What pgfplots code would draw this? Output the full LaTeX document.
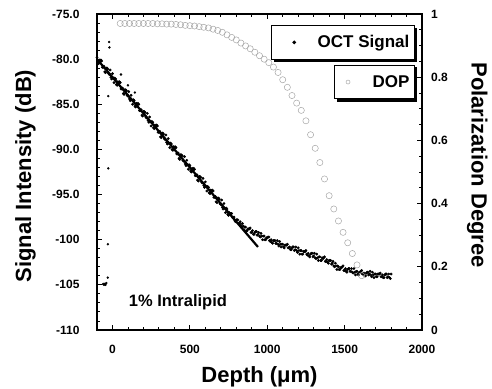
\documentclass[border=0pt]{standalone}
\usepackage{fontspec}
\setmainfont{Liberation Sans}
\usepackage{pgfplots}
\pgfplotsset{compat=1.18}

\pgfplotsset{
  commonaxis/.style={
    at={(0,0)}, anchor=south west,
    scale only axis, width=325bp, height=316bp,
    xmin=-100, xmax=2000,
    tick align=inside,
    major tick length=5bp, minor tick length=3bp,
    every tick/.style={line width=0.9bp, black},
    axis line style={line width=1.4bp},
    /pgf/number format/assume math mode=true,
    tick label style={font=\bfseries\fontsize{12bp}{14bp}\selectfont},
    label style={font=\bfseries\fontsize{22bp}{26bp}\selectfont, inner sep=0pt},
  }
}

\begin{document}
\begin{tikzpicture}
\path[use as bounding box] (-97bp,-59bp) rectangle (395bp,330bp);
\begin{axis}[
  commonaxis,
  ymin=-110, ymax=-75,
  xtick={0,500,1000,1500,2000}, xticklabels={0,500,1000,1500,2000},
  minor x tick num=4,
  ytick={-110,-105,-100,-95,-90,-85,-80,-75},
  yticklabels={-110,-105,-100,-95.0,-90.0,-85.0,-80.0,-75.0},
  minor y tick num=4,
  xtick pos=both, ytick pos=left,
  yticklabel style={xshift=-14bp},
  xticklabel style={yshift=-11.5bp},
  xlabel={Depth (μm)},
  ylabel={Signal Intensity (dB)},
  xlabel style={at={(axis description cs:0.5,-0.114)}, anchor=north},
  ylabel style={at={(axis description cs:-0.252,0.487)}, anchor=north},
  legend style={at={(axis description cs:0.978,0.965)}, anchor=north east,
    draw=black, line width=1bp, fill=white, name=legA,
    font=\bfseries\fontsize{17bp}{20bp}\selectfont,
    inner xsep=3bp, inner ysep=8bp},
]
\addplot[only marks, mark=*, mark size=1.2bp, black,
  legend image code/.code={\path (0bp,0bp) (40bp,0bp); \fill[black] (19bp,0) circle (1.3bp);}]
coordinates {
(-100,-79.8)(-90,-80.5)(-80,-80.3)(-70,-80.2)(-60,-80.9)(-50,-81.4)(-40,-81.0)(-30,-81.1)(-20,-81.7)(-10,-82.0)
(0,-81.6)(10,-82.6)(20,-82.2)(30,-82.9)(40,-82.7)(50,-82.6)(60,-83.3)(70,-83.8)(80,-83.4)(90,-83.5)
(100,-84.1)(110,-84.4)(120,-84.0)(130,-85.0)(140,-84.6)(150,-85.3)(160,-85.1)(170,-85.0)(180,-85.7)(190,-86.2)
(200,-85.8)(210,-85.9)(220,-86.5)(230,-86.8)(240,-86.4)(250,-87.4)(260,-87.0)(270,-87.7)(280,-87.5)(290,-87.4)
(300,-88.1)(310,-88.6)(320,-88.2)(330,-88.3)(340,-88.9)(350,-89.2)(360,-88.8)(370,-89.8)(380,-89.4)(390,-90.1)
(400,-89.9)(410,-89.8)(420,-90.5)(430,-91.0)(440,-90.6)(450,-90.7)(460,-91.3)(470,-91.6)(480,-91.2)(490,-92.2)
(500,-91.8)(510,-92.5)(520,-92.3)(530,-92.2)(540,-92.9)(550,-93.4)(560,-93.0)(570,-93.1)(580,-93.7)(590,-94.0)
(600,-93.6)(610,-94.6)(620,-94.2)(630,-94.9)(640,-94.7)(650,-94.6)(660,-95.3)(670,-95.8)(680,-95.4)(690,-95.5)
(700,-96.1)(710,-96.4)(720,-96.0)(730,-97.0)(740,-96.6)(750,-97.3)(760,-97.1)(770,-97.1)(780,-97.6)(790,-97.9)
(800,-97.8)(810,-97.8)(820,-98.2)(830,-98.4)(840,-98.2)(850,-98.9)(860,-98.6)(870,-99.0)(880,-98.8)(890,-98.7)
(900,-99.2)(910,-99.4)(920,-99.2)(930,-99.1)(940,-99.4)(950,-99.6)(960,-99.3)(970,-100.0)(980,-99.6)(990,-100.0)
(1000,-99.8)(1010,-99.7)(1020,-100.2)(1030,-100.3)(1040,-100.1)(1050,-100.1)(1060,-100.4)(1070,-100.5)(1080,-100.2)(1090,-100.8)
(1100,-100.5)(1110,-100.9)(1120,-100.6)(1130,-100.5)(1140,-100.9)(1150,-101.1)(1160,-100.9)(1170,-100.8)(1180,-101.1)(1190,-101.2)
(1200,-100.9)(1210,-101.6)(1220,-101.2)(1230,-101.6)(1240,-101.3)(1250,-101.2)(1260,-101.7)(1270,-101.8)(1280,-101.6)(1290,-101.5)
(1300,-101.8)(1310,-102.0)(1320,-101.6)(1330,-102.3)(1340,-101.9)(1350,-102.3)(1360,-102.1)(1370,-101.9)(1380,-102.4)(1390,-102.5)
(1400,-102.3)(1410,-102.3)(1420,-102.6)(1430,-102.9)(1440,-102.6)(1450,-103.3)(1460,-103.0)(1470,-103.3)(1480,-103.1)(1490,-102.9)
(1500,-103.4)(1510,-103.5)(1520,-103.3)(1530,-103.2)(1540,-103.5)(1550,-103.6)(1560,-103.2)(1570,-103.9)(1580,-103.5)(1590,-103.9)
(1600,-103.6)(1610,-103.4)(1620,-103.8)(1630,-104.0)(1640,-103.7)(1650,-103.6)(1660,-103.8)(1670,-103.9)(1680,-103.6)(1690,-104.2)
(1700,-103.8)(1710,-104.1)(1720,-103.8)(1730,-103.7)(1740,-104.1)(1750,-104.2)(1760,-103.9)(1770,-103.8)(1780,-104.1)(1790,-104.2)(1800,-103.8)
};
\addlegendentry{OCT Signal}
\addplot[only marks, mark=*, mark size=1.2bp, black, forget plot]
coordinates {
(-95,-80.4)(-85,-80.1)(-75,-80.1)(-65,-80.9)(-55,-80.8)(-45,-81.5)(-35,-81.0)(-25,-81.6)(-15,-81.2)(-5,-82.2)
(5,-82.1)(15,-82.1)(25,-82.8)(35,-82.5)(45,-82.5)(55,-83.3)(65,-83.2)(75,-83.9)(85,-83.4)(95,-84.0)
(105,-83.6)(115,-84.6)(125,-84.5)(135,-84.5)(145,-85.2)(155,-84.9)(165,-84.9)(175,-85.7)(185,-85.6)(195,-86.3)
(205,-85.8)(215,-86.4)(225,-86.0)(235,-87.0)(245,-86.9)(255,-86.9)(265,-87.6)(275,-87.3)(285,-87.3)(295,-88.1)
(305,-88.0)(315,-88.7)(325,-88.2)(335,-88.8)(345,-88.4)(355,-89.4)(365,-89.3)(375,-89.3)(385,-90.0)(395,-89.7)
(405,-89.7)(415,-90.5)(425,-90.4)(435,-91.1)(445,-90.6)(455,-91.2)(465,-90.8)(475,-91.8)(485,-91.7)(495,-91.7)
(505,-92.4)(515,-92.1)(525,-92.1)(535,-92.9)(545,-92.8)(555,-93.5)(565,-93.0)(575,-93.6)(585,-93.2)(595,-94.2)
(605,-94.1)(615,-94.1)(625,-94.8)(635,-94.5)(645,-94.5)(655,-95.3)(665,-95.2)(675,-95.9)(685,-95.4)(695,-96.0)
(705,-95.6)(715,-96.6)(725,-96.5)(735,-96.5)(745,-97.2)(755,-97.0)(765,-97.1)(775,-97.5)(785,-97.5)(795,-98.0)
(805,-97.8)(815,-98.2)(825,-98.0)(835,-98.6)(845,-98.5)(855,-98.6)(865,-99.0)(875,-98.8)(885,-98.8)(895,-99.2)
(905,-99.0)(915,-99.4)(925,-99.1)(935,-99.5)(945,-99.2)(955,-99.7)(965,-99.6)(975,-99.6)(985,-100.0)(995,-99.8)
(1005,-99.7)(1015,-100.1)(1025,-100.0)(1035,-100.4)(1045,-100.1)(1055,-100.4)(1065,-100.1)(1075,-100.7)(1085,-100.5)(1095,-100.5)
(1105,-100.8)(1115,-100.6)(1125,-100.6)(1135,-100.9)(1145,-100.8)(1155,-101.1)(1165,-100.8)(1175,-101.2)(1185,-100.8)(1195,-101.4)
(1205,-101.2)(1215,-101.2)(1225,-101.6)(1235,-101.3)(1245,-101.3)(1255,-101.6)(1265,-101.5)(1275,-101.9)(1285,-101.5)(1295,-101.9)
(1305,-101.5)(1315,-102.1)(1325,-102.0)(1335,-101.9)(1345,-102.3)(1355,-102.0)(1365,-102.0)(1375,-102.4)(1385,-102.2)(1395,-102.6)
(1405,-102.3)(1415,-102.7)(1425,-102.4)(1435,-103.0)(1445,-102.9)(1455,-102.9)(1465,-103.3)(1475,-103.1)(1485,-103.0)(1495,-103.4)
(1505,-103.2)(1515,-103.6)(1525,-103.2)(1535,-103.5)(1545,-103.2)(1555,-103.7)(1565,-103.6)(1575,-103.5)(1585,-103.8)(1595,-103.6)
(1605,-103.5)(1615,-103.8)(1625,-103.7)(1635,-104.0)(1645,-103.6)(1655,-103.9)(1665,-103.5)(1675,-104.1)(1685,-103.9)(1695,-103.8)
(1705,-104.1)(1715,-103.8)(1725,-103.8)(1735,-104.1)(1745,-103.9)(1755,-104.2)(1765,-103.8)(1775,-104.2)(1785,-103.8)(1795,-104.3)
};
\addplot[only marks, mark=*, mark size=1.0bp, black, forget plot]
coordinates {(-22,-78.1)(-20,-78.7)(-27,-84.1)(-27,-92.1)(-30,-100.5)(-30,-104.2)
(-60,-104.9)(-55,-105.0)(-50,-104.9)(-45,-105.0)(-40,-104.8)(55,-81.7)(145,-83.7)(100,-82.9)};
\addplot[black, line width=2.2bp, forget plot] coordinates {(-100,-80.0) (940,-100.8)};
\node[font=\bfseries\fontsize{16.5bp}{18bp}\selectfont] at (axis description cs:0.249,0.0886) {1\% Intralipid};
\end{axis}

\begin{axis}[
  commonaxis,
  ymin=0, ymax=1,
  axis x line=none, axis y line*=right,
  y axis line style={-},
  ytick={0,0.2,0.4,0.6,0.8,1}, yticklabels={0,0.2,0.4,0.6,0.8,1},
  minor y tick num=3,
  yticklabel style={xshift=5.7bp},
  ylabel={Polarization Degree},
  ylabel style={at={(axis description cs:1.138,0.522)}, anchor=south, rotate=180},
  legend style={at={(axis description cs:0.978,0.839)}, anchor=north east,
    draw=black, line width=1bp, fill=white, name=legB,
    font=\bfseries\fontsize{17bp}{20bp}\selectfont,
    inner xsep=3bp, inner ysep=8bp},
]
\addplot[only marks, mark=o, mark size=3.1bp, gray!70, mark options={line width=0.5bp},
  legend image code/.code={\path (0bp,0bp) (32bp,0bp); \draw[gray!70, line width=0.5bp] (10bp,0) circle (2bp);}]
coordinates {
(50,0.970)(80,0.970)(110,0.970)(140,0.970)(170,0.970)(200,0.970)(230,0.970)(260,0.970)
(290,0.969)(320,0.969)(350,0.968)(380,0.968)(410,0.967)(440,0.966)(470,0.964)(500,0.963)
(530,0.962)(560,0.960)(590,0.958)(620,0.956)(650,0.952)(680,0.948)(710,0.942)(740,0.934)
(770,0.926)(800,0.918)(830,0.908)(860,0.899)(890,0.890)(920,0.879)(950,0.868)(980,0.857)
(1010,0.846)(1040,0.832)(1070,0.815)(1100,0.792)(1130,0.768)(1160,0.742)(1190,0.718)(1220,0.695)
(1250,0.662)(1280,0.618)(1310,0.575)(1340,0.530)(1370,0.478)(1400,0.425)(1430,0.383)(1460,0.345)
(1490,0.309)(1520,0.276)(1550,0.242)(1580,0.206)(1610,0.172)
};
\addlegendentry{DOP}
\end{axis}
\fill[black] ([xshift=2.5bp,yshift=-2.5bp]legA.south west) rectangle ([xshift=2.5bp]legA.south east);
\fill[black] ([yshift=-2.5bp]legA.south east) rectangle ([xshift=2.5bp,yshift=-2.5bp]legA.north east);
\fill[black] ([xshift=2.5bp,yshift=-2.5bp]legB.south west) rectangle ([xshift=2.5bp]legB.south east);
\fill[black] ([yshift=-2.5bp]legB.south east) rectangle ([xshift=2.5bp,yshift=-2.5bp]legB.north east);
\end{tikzpicture}
\end{document}
